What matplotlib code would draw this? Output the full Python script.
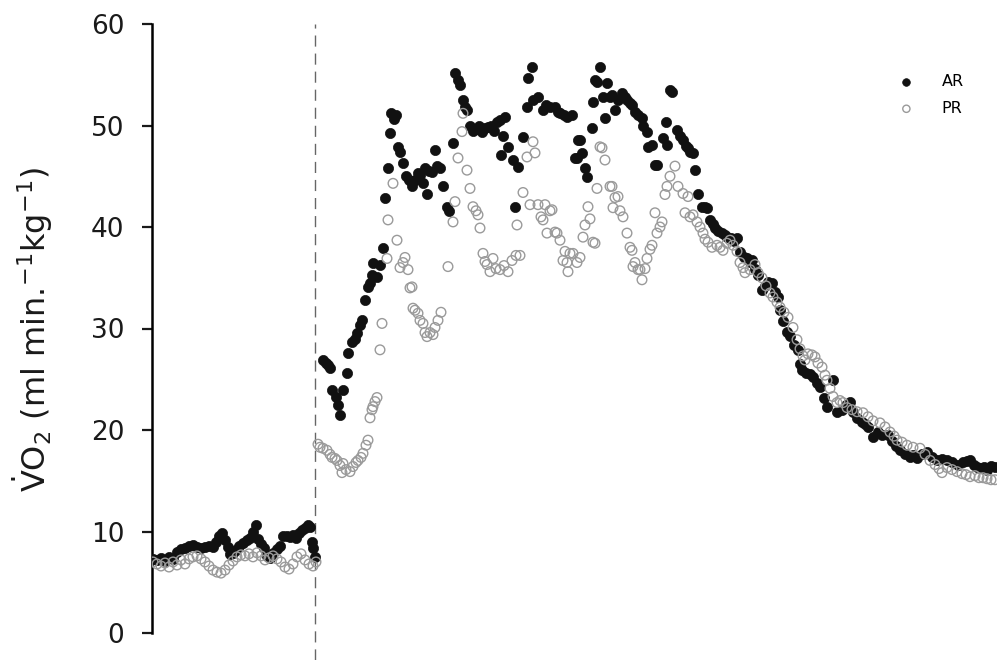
import matplotlib
matplotlib.use("Agg")
import matplotlib.pyplot as plt

# time axis in arbitrary sample units; exercise onset at ONSET
ONSET = 315
y_ticks = [0, 10, 20, 30, 40, 50, 60]
series_labels = ["AR", "PR"]

ar_rest_t = [153, 157, 161, 165, 169, 173, 177, 181, 185, 189, 193, 197, 201, 205, 209, 213, 216, 219, 222, 225,
             228, 230, 233, 236, 239, 243, 247, 250, 253, 256, 258, 261, 264, 267, 270, 273, 277, 280, 283, 287,
             290, 293, 296, 299, 302, 305, 308, 310, 312, 313, 315]
ar_rest_v = [7.3, 7.2, 7.4, 7.1, 7.5, 7.3, 8.0, 8.3, 8.4, 8.6, 8.7, 8.5, 8.4, 8.5, 8.6, 8.5, 9.0, 9.6, 9.9, 9.2,
             8.5, 7.8, 7.9, 8.2, 8.6, 8.9, 9.2, 9.4, 10.0, 10.6, 9.3, 8.8, 8.4, 7.6, 7.4, 7.9, 8.3, 8.6, 9.6, 9.6,
             9.5, 9.7, 9.4, 9.9, 10.1, 10.3, 10.6, 10.4, 9.0, 8.4, 7.5]

pr_rest_t = [153, 157, 161, 165, 169, 173, 177, 181, 185, 189, 193, 197, 201, 205, 209, 213, 217, 221, 225, 229,
             233, 237, 241, 245, 249, 253, 257, 261, 265, 269, 273, 277, 281, 285, 289, 293, 297, 301, 305, 309,
             313, 316]
pr_rest_v = [7.0, 6.8, 6.6, 6.9, 6.5, 7.0, 6.7, 7.2, 6.8, 7.3, 7.5, 7.6, 7.3, 7.0, 6.6, 6.2, 6.0, 5.9, 6.2, 6.7,
             7.1, 7.5, 7.7, 7.6, 7.8, 7.5, 7.9, 7.6, 7.2, 7.4, 7.6, 7.3, 7.0, 6.5, 6.3, 6.8, 7.5, 7.8, 7.2, 6.8,
             6.6, 7.0]

ar_ex_t = [323, 326, 328, 330, 332, 336, 338, 340, 343, 347, 348, 352, 355, 357, 360, 362, 365, 368, 370, 372,
           373, 377, 380, 383, 385, 388, 390, 391, 394, 396, 398, 400, 403, 406, 409, 412, 415, 418, 420, 423,
           425, 427, 429, 432, 435, 437, 440, 443, 447, 449, 453, 455, 458, 460, 463, 465, 467, 470, 473, 476,
           479, 482, 485, 488, 491, 494, 497, 500, 501, 503, 505, 508, 513, 515, 518, 523, 527, 528, 532, 533,
           538, 543, 546, 550, 555, 558, 560, 564, 567, 572, 575, 577, 578, 580, 582, 585, 587, 592, 593, 595,
           597, 600, 603, 605, 607, 610, 612, 615, 618, 622, 625, 627, 630, 632, 635, 638, 642, 643, 647, 648,
           652, 655, 657, 663, 666, 667, 670, 672, 677, 680, 683, 686, 688, 690, 693, 695, 698, 702, 705, 707,
           710, 713, 715, 718, 722, 725, 727, 731, 734, 737, 740, 744, 747, 750, 752, 755, 758, 762, 765, 768,
           772, 775, 778, 780, 783, 787, 790, 794, 798, 800, 802, 806, 810, 813, 817, 820, 824, 827, 833, 837,
           842, 846, 850, 853, 857, 862, 865, 868, 873, 878, 882, 888, 892, 896, 900, 905, 910, 913, 917, 922,
           927, 932, 937, 942, 947, 952, 958, 963, 967, 970, 974, 977, 980, 984, 987, 991, 995]
ar_ex_v = [26.9, 26.6, 26.4, 26.1, 23.9, 23.3, 22.5, 21.5, 23.9, 25.6, 27.6, 28.7, 29.0, 29.6, 30.3, 30.8, 32.8, 34.1, 34.5, 35.3,
           36.5, 35.1, 36.3, 37.9, 42.9, 45.8, 49.3, 51.2, 50.6, 51.0, 47.9, 47.4, 46.3, 45.0, 44.6, 44.0, 44.6, 45.3, 45.1, 44.3,
           45.8, 43.3, 45.5, 45.4, 47.6, 46.0, 45.8, 44.0, 42.0, 41.6, 48.3, 55.2, 54.5, 54.0, 52.5, 51.8, 51.5, 50.0, 49.5, 49.7,
           50.0, 49.4, 49.8, 49.9, 50.0, 49.5, 50.3, 50.5, 47.1, 49.0, 50.8, 47.9, 46.6, 42.0, 45.9, 48.9, 51.8, 54.7, 55.8, 52.5,
           52.8, 51.5, 52.0, 51.8, 51.8, 51.3, 51.2, 51.0, 50.8, 51.0, 46.8, 46.8, 48.6, 48.6, 47.3, 45.8, 44.9, 49.8, 52.3, 54.5,
           54.3, 55.8, 52.8, 50.7, 54.2, 52.8, 53.0, 51.5, 52.5, 53.2, 52.8, 52.5, 52.2, 52.0, 51.3, 51.0, 50.7, 50.0, 49.4, 47.9,
           48.1, 46.1, 46.1, 48.8, 50.3, 48.1, 53.5, 53.3, 49.6, 49.0, 48.6, 48.0, 47.8, 47.4, 47.3, 45.6, 43.3, 42.0, 42.0, 41.9,
           40.7, 40.3, 39.9, 39.6, 39.4, 39.2, 39.0, 38.9, 38.6, 38.9, 37.5, 37.0, 36.9, 36.6, 36.7, 35.9, 35.3, 33.8, 34.2, 34.6,
           34.5, 33.6, 33.1, 31.8, 30.7, 29.7, 29.3, 28.4, 27.9, 26.5, 25.9, 25.6, 25.5, 25.2, 24.6, 24.2, 23.2, 22.3, 24.9, 21.8,
           22.0, 22.5, 22.8, 21.8, 21.2, 20.8, 20.6, 20.3, 19.3, 19.8, 19.5, 19.5, 18.9, 18.4, 18.0, 17.6, 17.3, 17.5, 17.2, 17.6,
           17.8, 17.3, 17.0, 17.1, 17.0, 16.8, 16.6, 16.8, 16.9, 17.0, 16.6, 16.4, 16.3, 16.4, 16.1, 16.5, 16.4]

pr_ex_t = [318, 320, 323, 327, 330, 332, 335, 337, 340, 342, 343, 346, 350, 353, 356, 358, 361, 363, 366, 368,
           370, 372, 373, 375, 377, 380, 382, 387, 388, 393, 397, 400, 403, 405, 408, 410, 412, 413, 415, 418,
           420, 423, 425, 427, 430, 433, 435, 438, 441, 448, 453, 455, 458, 462, 463, 467, 470, 473, 476, 478,
           480, 483, 485, 487, 490, 493, 496, 500, 504, 508, 512, 516, 517, 520, 523, 527, 530, 533, 535, 538,
           541, 543, 545, 547, 550, 552, 555, 557, 560, 563, 565, 567, 568, 570, 573, 577, 580, 583, 585, 588,
           590, 593, 595, 597, 600, 602, 605, 610, 612, 613, 615, 618, 620, 623, 627, 630, 632, 633, 635, 638,
           640, 642, 645, 647, 650, 652, 655, 657, 660, 662, 665, 667, 670, 675, 678, 683, 685, 688, 690, 693,
           697, 700, 703, 705, 708, 712, 717, 720, 723, 727, 730, 733, 737, 740, 743, 745, 750, 755, 758, 762,
           766, 770, 773, 777, 780, 784, 788, 793, 797, 800, 803, 805, 808, 812, 815, 818, 822, 825, 827, 830,
           833, 837, 840, 843, 847, 852, 857, 863, 868, 873, 880, 885, 890, 894, 897, 902, 907, 913, 920, 925,
           930, 935, 939, 942, 947, 952, 957, 962, 966, 970, 975, 979, 983, 987, 991, 995]
pr_ex_v = [18.6, 18.3, 18.2, 18.0, 17.6, 17.3, 17.2, 17.0, 16.5, 15.8, 16.7, 16.1, 15.9, 16.4, 16.8, 17.0, 17.3, 17.7, 18.5, 19.0,
           21.2, 22.0, 22.3, 22.8, 23.2, 27.9, 30.5, 36.9, 40.7, 44.3, 38.7, 36.0, 36.5, 37.0, 35.8, 34.0, 34.1, 32.0, 31.8, 31.5,
           30.8, 30.5, 29.6, 29.2, 29.6, 29.4, 30.1, 30.8, 31.6, 36.1, 40.5, 42.5, 46.8, 49.4, 51.2, 45.6, 43.8, 42.0, 41.6, 41.2,
           39.9, 37.4, 36.6, 36.3, 35.6, 36.9, 35.9, 35.8, 36.2, 35.6, 36.7, 37.2, 40.2, 37.2, 43.4, 46.9, 42.2, 48.4, 47.3, 42.2,
           41.0, 40.7, 42.2, 39.4, 41.6, 41.7, 39.5, 39.4, 38.7, 36.7, 37.6, 36.5, 35.6, 37.4, 37.4, 36.5, 37.0, 39.0, 40.2, 42.0,
           40.8, 38.5, 38.4, 43.8, 47.9, 47.8, 46.6, 44.0, 44.0, 41.9, 42.9, 43.0, 41.6, 41.0, 39.4, 38.0, 37.7, 36.1, 36.5, 35.8,
           35.8, 34.8, 35.9, 36.9, 37.8, 38.2, 41.4, 39.4, 40.0, 40.5, 43.2, 44.0, 45.0, 46.0, 44.0, 43.3, 41.4, 43.0, 41.0, 41.2,
           40.5, 40.0, 39.4, 38.8, 38.5, 38.0, 38.2, 38.0, 37.7, 38.4, 38.7, 38.2, 37.6, 36.5, 36.0, 35.5, 35.8, 36.3, 35.5, 35.0,
           34.2, 33.5, 33.1, 32.6, 32.1, 31.6, 31.1, 30.1, 28.9, 28.0, 27.3, 26.9, 27.5, 27.4, 27.2, 26.6, 26.2, 25.4, 24.9, 24.1,
           23.3, 22.7, 22.9, 22.7, 22.2, 22.0, 21.8, 21.7, 21.3, 20.9, 20.7, 20.3, 19.8, 19.4, 19.0, 18.8, 18.5, 18.3, 18.2, 17.6,
           17.0, 16.6, 16.2, 15.8, 16.3, 16.1, 15.9, 15.7, 15.6, 15.4, 15.5, 15.3, 15.3, 15.2, 15.1, 15.1]

plt.rcParams['font.family'] = ['DejaVu Sans']
plt.rcParams['mathtext.fontset'] = 'dejavusans'

fig = plt.figure(figsize=(9.97, 6.6), dpi=100)
ax = fig.add_axes([152 / 997, 0.0, 845 / 997, 636 / 660])

ar_t = ar_rest_t + ar_ex_t
ar_v = ar_rest_v + ar_ex_v
pr_t = pr_rest_t + pr_ex_t
pr_v = pr_rest_v + pr_ex_v

ax.axvline(ONSET, color='#666666', lw=1.0, ls=(0, (8, 5)), zorder=1)

ax.scatter(ar_t, ar_v, s=54, color='#111111', edgecolors='#111111', linewidths=0.5, zorder=3, label=series_labels[0])
ax.scatter(pr_t, pr_v, s=48, facecolors='none', edgecolors='#9a9a9a', linewidths=1.0, zorder=4, label=series_labels[1])

ax.set_xlim(152, 997)
ax.set_ylim(-(27 / 10.15), 60)
ax.set_yticks(y_ticks)
ax.set_yticklabels([str(v) for v in y_ticks])
ax.spines['left'].set_bounds(0, 60)
ax.spines['left'].set_linewidth(1.8)
for s in ['top', 'right', 'bottom']:
    ax.spines[s].set_visible(False)
ax.set_xticks([])
ax.tick_params(axis='y', direction='out', length=7, width=1.6, labelsize=19, pad=13, colors='#1a1a1a')

ax.set_ylabel(r'$\dot{\mathrm{V}}\mathrm{O}_{2}$ (ml min.$^{\mathrm{-1}}$kg$^{\mathrm{-1}}$)', fontsize=23, color='#1a1a1a')
ax.yaxis.set_label_coords(-0.115, 0.52)

leg = ax.legend(loc='upper left', bbox_to_anchor=(892 / 997, 1 - 66 / 660), bbox_transform=fig.transFigure,
                frameon=False, fontsize=11.5, markerscale=0.75, handlelength=0.8, handletextpad=1.8,
                labelspacing=0.75, borderpad=0)

fig.savefig('out.png', dpi=100)
